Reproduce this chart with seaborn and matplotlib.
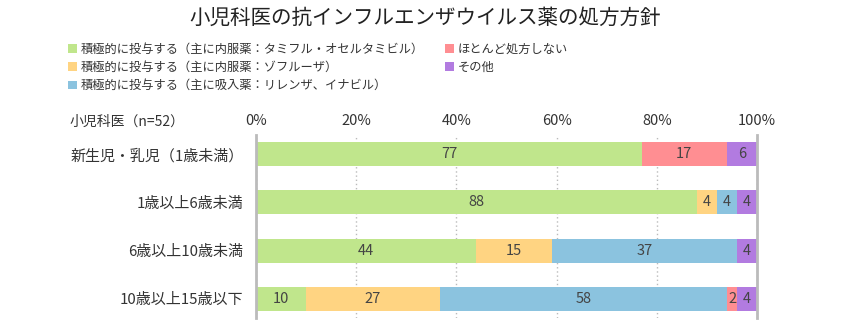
import matplotlib
matplotlib.use("Agg")
import matplotlib.pyplot as plt
import seaborn as sns
import pandas as pd
import numpy as np
from matplotlib.patches import Patch

title = "小児科医の抗インフルエンザウイルス薬の処方方針"
group_label = "小児科医（n=52）"
categories = ["新生児・乳児（1歳未満）", "1歳以上6歳未満", "6歳以上10歳未満", "10歳以上15歳以下"]
series_names = [
    "積極的に投与する（主に内服薬：タミフル・オセルタミビル）",
    "積極的に投与する（主に内服薬：ゾフルーザ）",
    "積極的に投与する（主に吸入薬：リレンザ、イナビル）",
    "ほとんど処方しない",
    "その他",
]
tamiflu = [77, 88, 44, 10]
xofluza = [0, 4, 15, 27]
inhaled = [0, 4, 37, 58]
hardly = [17, 0, 0, 2]
other = [6, 4, 4, 4]
colors = ["#C0E68C", "#FFD482", "#8BC3DF", "#FF8E92", "#B27BE0"]
xticks = [0, 20, 40, 60, 80, 100]
xticklabels = ["0%", "20%", "40%", "60%", "80%", "100%"]

sns.set_theme(style="white")
plt.rcParams['font.family'] = ['Noto Sans CJK JP', 'DejaVu Sans']

fig = plt.figure(figsize=(8.5, 3.3), dpi=100)
ax = fig.add_axes([256/850, 12/330, 501/850, 183/330])

values = np.array([tamiflu, xofluza, inhaled, hardly, other], dtype=float).T  # rows x series
totals = values.sum(axis=1)
cum = np.cumsum(values, axis=1)
pct_end = cum / totals[:, None] * 100
pct_start = pct_end - values / totals[:, None] * 100

for i in reversed(range(len(series_names))):
    df = pd.DataFrame({"cat": categories, "end": pct_end[:, i]})
    sns.barplot(data=df, x="end", y="cat", color=colors[i], width=0.5,
                saturation=1, linewidth=0, ax=ax, orient="h", zorder=3)

for r in range(len(categories)):
    for i in range(len(series_names)):
        v = values[r, i]
        if v > 0:
            xc = (pct_start[r, i] + pct_end[r, i]) / 2
            ax.text(xc, r, f"{int(v)}", ha="center", va="center",
                    fontsize=10.5, color="#444444", zorder=5)

ax.set_xlim(0, 100)
ax.set_ylim(3.4, -0.4)
ax.set_xlabel("")
ax.set_ylabel("")
ax.xaxis.tick_top()
ax.set_xticks(xticks)
ax.set_xticklabels(xticklabels)
ax.tick_params(axis="x", length=0, pad=5, labelsize=10.5, colors="#333333")
ax.tick_params(axis="y", length=0, pad=9, labelsize=10.8, colors="#333333")
ax.set_axisbelow(True)
ax.xaxis.grid(True, linestyle=(0, (1, 2)), color="#bbbbbb", linewidth=1)
ax.yaxis.grid(False)
for s in ["top", "bottom"]:
    ax.spines[s].set_visible(False)
for s in ["left", "right"]:
    ax.spines[s].set_visible(True)
    ax.spines[s].set_color("#bbbbbb")
    ax.spines[s].set_linewidth(2)
    ax.spines[s].set_zorder(6)

fig.text(0.5, 1 - 18/330, title, ha="center", va="center", fontsize=14.8, color="#222222")
fig.text(70/850, 1 - 122/330, group_label, ha="left", va="center", fontsize=10, color="#333333")

handles = [Patch(facecolor=c, edgecolor="none") for c in colors]
fig.legend(handles, series_names, ncol=2, loc="upper left",
           bbox_to_anchor=(68/850, 1 - 43/330), frameon=False, fontsize=8.8,
           handlelength=0.75, handleheight=0.75, handletextpad=0.3,
           columnspacing=1.7, labelspacing=0.42, borderpad=0, borderaxespad=0,
           labelcolor="#333333")

fig.savefig("out.png", dpi=100)
